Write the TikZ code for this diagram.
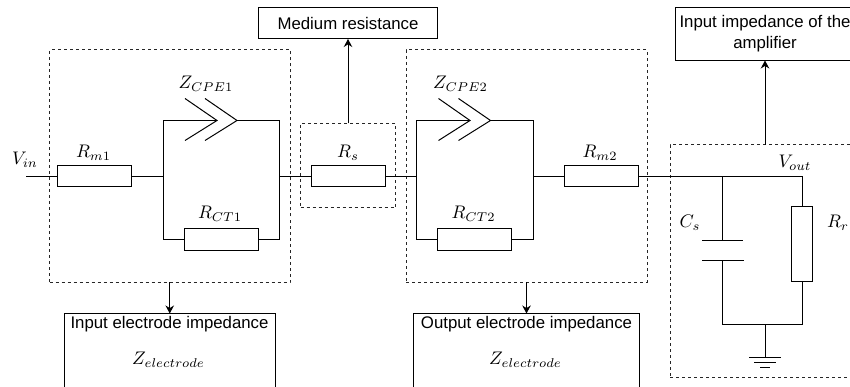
\documentclass[tikz,border=0pt]{standalone}
\usepackage{fontspec}
\setmainfont{Liberation Sans}
\usetikzlibrary{arrows.meta}
\tikzset{
  wire/.style={draw=black,line width=1pt,line cap=butt},
  res/.style={draw=black,line width=1pt,rectangle,inner sep=0pt,outer sep=0pt,minimum width=74pt,minimum height=21.5pt},
  vres/.style={res,minimum width=21.5pt,minimum height=74pt},
  dbox/.style={draw=black!85,line width=1pt,dash pattern=on 3pt off 3pt,rectangle,inner sep=0pt,outer sep=0pt},
  sbox/.style={draw=black,line width=1pt,rectangle,inner sep=0pt,outer sep=0pt,align=center,font=\fontsize{16.8}{21}\selectfont},
  txt/.style={inner sep=0pt,outer sep=0pt,align=center,font=\fontsize{16.8}{21}\selectfont},
  mlabel/.style={inner sep=0pt,outer sep=0pt,scale=1.82},
  arr/.style={wire,-{Stealth[length=8pt,width=8.5pt]}}
}
\begin{document}
\begin{tikzpicture}[x=1pt,y=-1pt]
\useasboundingbox (0,0) rectangle (850,387);
\clip (0,0) rectangle (850,387);
% dashed groups
\node[dbox,minimum width=240.5pt,minimum height=232pt] (box1) at (169.75,166) {};
\node[dbox,minimum width=95pt,minimum height=84.5pt] (box2) at (348,165.75) {};
\node[dbox,minimum width=241pt,minimum height=232pt] (box3) at (526.5,166) {};
\node[dbox,minimum width=190pt,minimum height=232pt] (box4) at (765,261) {};
% solid boxes
\node[sbox,minimum width=179.5pt,minimum height=31.5pt] (medium) at (348,23.25) {Medium resistance};
\node[sbox,minimum width=180pt,minimum height=53pt] (amp) at (765,34) {Input impedance of the\\amplifier};
\node[sbox,minimum width=211pt,minimum height=100pt] (inbox) at (169.75,363.5) {};
\node[sbox,minimum width=225.5pt,minimum height=100pt] (outbox) at (526.5,363.5) {};
\node[txt] (intext) at (169.5,324) {\strut Input electrode impedance};
\node[txt] (outtext) at (526.5,324) {\strut Output electrode impedance};
\node[mlabel] (zel1) at (168.5,360) {$Z_{electrode}$};
\node[mlabel] (zel2) at (525.5,360) {$Z_{electrode}$};
% resistors
\node[res] (rm1) at (94.5,176.25) {};
\node[res] (rct1) at (221.5,239.5) {};
\node[res] (rs) at (348,176.25) {};
\node[res] (rct2) at (474.5,239.5) {};
\node[res] (rm2) at (601.5,176.25) {};
\node[vres] (rr) at (802,244) {};
% junction points
\coordinate (vin) at (26,176.25);
\coordinate (a1) at (163.5,176.25);
\coordinate (a2) at (279.5,176.25);
\coordinate (b1) at (416.5,176.25);
\coordinate (b2) at (533,176.25);
\coordinate (tl1) at (163.5,120.5);
\coordinate (tr1) at (279.5,120.5);
\coordinate (tl2) at (416.5,120.5);
\coordinate (tr2) at (533,120.5);
\coordinate (bl1) at (163.5,239.5);
\coordinate (br1) at (279.5,239.5);
\coordinate (bl2) at (416.5,239.5);
\coordinate (br2) at (533,239.5);
\coordinate (ca) at (722.5,176.25);
\coordinate (ra) at (802,176.25);
\coordinate (cp1) at (722.5,240);
\coordinate (cp2) at (722.5,260);
\coordinate (cb) at (722.5,324);
\coordinate (rb) at (802,324);
\coordinate (gt) at (765,324);
\coordinate (g1) at (765,357);
% wires
\draw[wire] (vin) -- (rm1.west);
\draw[wire] (rm1.east) -- (a1);
\draw[wire] (a2) -- (rs.west);
\draw[wire] (rs.east) -- (b1);
\draw[wire] (b2) -- (rm2.west);
\draw[wire] (rm2.east) -- (ra);
% first parallel branch
\draw[wire] (217,120.5) -- (tl1) -- (bl1) -- (rct1.west);
\draw[wire] (rct1.east) -- (br1) -- (tr1) -- (237,120.5);
\draw[wire] (185,98.5) -- (217,120.5) -- (185,140.5);
\draw[wire] (205,98.5) -- (237,120.5) -- (205,140.5);
% second parallel branch
\draw[wire] (470,120.5) -- (tl2) -- (bl2) -- (rct2.west);
\draw[wire] (rct2.east) -- (br2) -- (tr2) -- (490.5,120.5);
\draw[wire] (438.5,98.5) -- (470,120.5) -- (438.5,140.5);
\draw[wire] (458.5,98.5) -- (490.5,120.5) -- (458.5,140.5);
% output stage
\draw[wire] (ca) -- (cp1);
\draw[wire] (702,240) -- (743,240);
\draw[wire] (702,260) -- (744,260);
\draw[wire] (cp2) -- (cb) -- (rb) -- (rr.south);
\draw[wire] (ra) -- (rr.north);
\draw[wire] (gt) -- (g1);
\draw[wire] (749,357) -- (781,357);
\draw[wire] (754,362) -- (776,362);
\draw[wire] (760,367) -- (770,367);
% arrows
\draw[arr] (box2.north) -- (medium.south);
\draw[arr] (box4.north) -- (amp.south);
\draw[arr] (box1.south) -- (inbox.north);
\draw[arr] (box3.south) -- (outbox.north);
% labels
\node[mlabel] (lvin) at (25,160) {$V_{in}$};
\node[mlabel] (lrm1) at (93.5,153) {$R_{m1}$};
\node[mlabel] (lz1) at (206,84) {$Z_{CPE1}$};
\node[mlabel] (lrct1) at (220,214) {$R_{CT1}$};
\node[mlabel] (lrs) at (348,153) {$R_s$};
\node[mlabel] (lz2) at (460.5,84) {$Z_{CPE2}$};
\node[mlabel] (lrct2) at (473.5,214) {$R_{CT2}$};
\node[mlabel] (lrm2) at (600,153) {$R_{m2}$};
\node[mlabel] (lvout) at (795,163) {$V_{out}$};
\node[mlabel] (lcs) at (690,223) {$C_s$};
\node[mlabel] (lrr) at (838,223) {$R_r$};
\end{tikzpicture}
\end{document}
